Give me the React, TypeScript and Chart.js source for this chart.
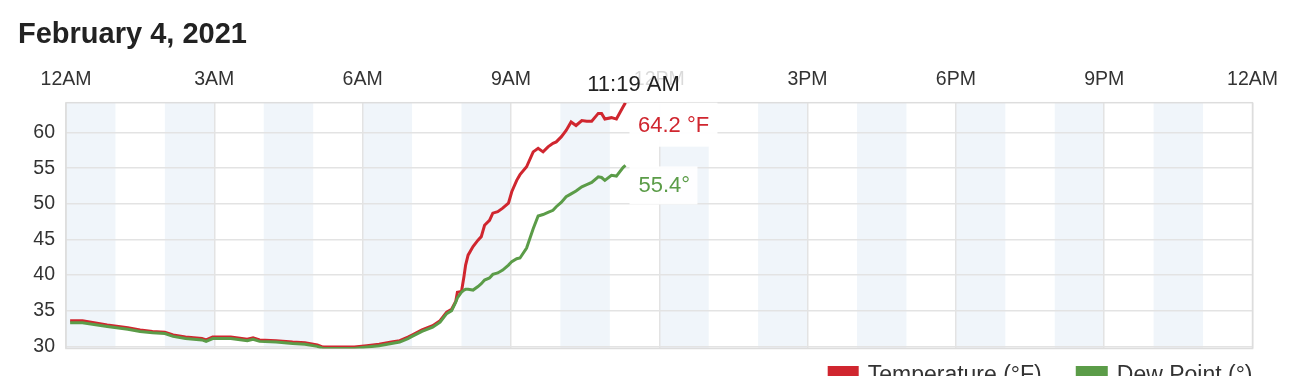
import React, { useEffect, useRef } from 'react';
import { Chart, registerables } from 'chart.js';

Chart.register(...registerables);

const TITLE = 'February 4, 2021';
const xTickLabels = ['12AM', '3AM', '6AM', '9AM', '12PM', '3PM', '6PM', '9PM', '12AM'];
const yTickValues = [30, 35, 40, 45, 50, 55, 60];
const bandStartHours = [0, 2, 4, 6, 8, 10, 12, 14, 16, 18, 20, 22];
const seriesNames = ['Temperature (°F)', 'Dew Point (°)'];
const currentTimeLabel = '11:19 AM';
const currentTempLabel = '64.2 °F';
const currentDewLabel = '55.4°';

const times = [
  '0:05', '0:20', '0:50', '1:15', '1:30', '1:45', '2:00', '2:10', '2:25', '2:45',
  '2:50', '2:58', '3:20', '3:40', '3:47', '3:55', '4:15', '4:35', '4:50', '5:05',
  '5:12', '5:30', '5:50', '6:05', '6:20', '6:35', '6:45', '6:55', '7:00', '7:12',
  '7:25', '7:34', '7:42', '7:48', '7:53', '7:55', '8:00', '8:03', '8:05', '8:08',
  '8:14', '8:20', '8:24', '8:28', '8:34', '8:38', '8:44', '8:50', '8:57', '9:01',
  '9:07', '9:11', '9:19', '9:27', '9:33', '9:39', '9:45', '9:51', '9:55', '10:01',
  '10:07', '10:13', '10:19', '10:26', '10:32', '10:38', '10:46', '10:50', '10:54', '11:02',
  '11:08', '11:16', '11:19',
];

const temperature = [
  33.6, 33.6, 33.0, 32.6, 32.3, 32.1, 32.0, 31.6, 31.3, 31.1,
  30.9, 31.3, 31.3, 31.0, 31.2, 30.9, 30.8, 30.6, 30.5, 30.2,
  29.9, 29.9, 29.9, 30.1, 30.3, 30.6, 30.8, 31.3, 31.6, 32.3,
  32.9, 33.6, 34.8, 35.2, 36.3, 37.6, 37.7, 39.8, 41.4, 42.8,
  44.0, 44.9, 45.4, 47.0, 47.7, 48.7, 48.9, 49.4, 50.1, 51.7,
  53.3, 54.1, 55.2, 57.3, 57.8, 57.3, 58.0, 58.5, 58.7, 59.4,
  60.3, 61.5, 61.0, 61.7, 61.6, 61.6, 62.7, 62.7, 61.9, 62.1,
  61.9, 63.6, 64.2,
];

const dewPoint = [
  33.3, 33.3, 32.8, 32.4, 32.1, 31.9, 31.8, 31.4, 31.1, 30.9,
  30.7, 31.1, 31.1, 30.8, 31.0, 30.7, 30.6, 30.4, 30.3, 30.0,
  29.7, 29.7, 29.7, 29.9, 30.1, 30.4, 30.6, 31.1, 31.4, 32.1,
  32.7, 33.4, 34.6, 35.0, 36.2, 36.8, 37.6, 37.9, 38.0, 38.0,
  37.9, 38.4, 38.8, 39.3, 39.6, 40.1, 40.3, 40.7, 41.4, 41.9,
  42.3, 42.4, 43.8, 46.5, 48.3, 48.5, 48.8, 49.1, 49.6, 50.2,
  51.0, 51.4, 51.8, 52.4, 52.7, 53.0, 53.8, 53.7, 53.3, 54.0,
  53.9, 55.1, 55.4,
];

const RED = '#d0262f';
const GREEN = '#5b9c48';
const FONT = '"Liberation Sans", Arial, sans-serif';

const toHours = (t: string) => {
  const [h, m] = t.split(':').map(Number);
  return h + m / 60;
};

const decorPlugin = {
  id: 'decor',
  beforeDraw(chart: any) {
    const { ctx, chartArea: a, scales } = chart;
    const x = scales.x;
    ctx.save();
    ctx.fillStyle = '#f0f5fa';
    bandStartHours.forEach((h) => {
      const x0 = x.getPixelForValue(h);
      const x1 = x.getPixelForValue(h + 1);
      ctx.fillRect(x0, a.top, x1 - x0, a.bottom - a.top);
    });
    ctx.restore();
  },
  beforeDatasetsDraw(chart: any) {
    const { ctx, chartArea: a } = chart;
    ctx.save();
    ctx.strokeStyle = '#dddddd';
    ctx.lineWidth = 1.5;
    ctx.strokeRect(a.left, a.top, a.right - a.left, a.bottom - a.top);
    ctx.restore();
  },
  afterDraw(chart: any) {
    const { ctx, chartArea: a, scales } = chart;
    const x = scales.x;
    const y = scales.y;
    const last = times.length - 1;
    const px = x.getPixelForValue(toHours(times[last]));
    const pyT = y.getPixelForValue(temperature[last]);
    const pyD = y.getPixelForValue(dewPoint[last]);
    ctx.save();
    ctx.font = `22px ${FONT}`;
    ctx.textBaseline = 'middle';

    // time label
    ctx.fillStyle = 'rgba(255,255,255,0.82)';
    ctx.fillRect(px - 46, a.top - 37, 108, 36);
    ctx.fillStyle = '#222';
    ctx.textAlign = 'center';
    ctx.fillText(currentTimeLabel, px + 8, a.top - 18);

    // temperature label
    ctx.fillStyle = 'rgba(255,255,255,0.95)';
    ctx.fillRect(px + 4, pyT, 88, 44);
    ctx.fillStyle = RED;
    ctx.textAlign = 'left';
    ctx.fillText(currentTempLabel, px + 12.5, pyT + 23);

    // dew point label
    ctx.fillStyle = 'rgba(255,255,255,0.9)';
    ctx.fillRect(px + 4, pyD + 1, 68, 38);
    ctx.fillStyle = GREEN;
    ctx.fillText(currentDewLabel, px + 13, pyD + 21);

    // legend
    ctx.font = `23px ${FONT}`;
    ctx.textBaseline = 'alphabetic';
    const w1 = ctx.measureText(seriesNames[0]).width;
    const w2 = ctx.measureText(seriesNames[1]).width;
    const t2x = a.right - w2;
    const b2x = t2x - 41;
    const t1x = b2x - 34 - w1;
    const b1x = t1x - 40;
    const by = 366;
    ctx.fillStyle = RED;
    ctx.fillRect(b1x, by, 31, 16);
    ctx.fillStyle = GREEN;
    ctx.fillRect(b2x, by, 32, 16);
    ctx.fillStyle = '#333';
    ctx.fillText(seriesNames[0], t1x, 381.5);
    ctx.fillText(seriesNames[1], t2x, 381.5);
    ctx.restore();
  },
};

export default function App() {
  const ref = useRef<HTMLCanvasElement | null>(null);

  useEffect(() => {
    if (!ref.current) return;
    const tempData = times.map((t, i) => ({ x: toHours(t), y: temperature[i] }));
    const dewData = times.map((t, i) => ({ x: toHours(t), y: dewPoint[i] }));

    const chart = new Chart(ref.current, {
      type: 'line',
      data: {
        datasets: [
          {
            label: seriesNames[0],
            data: tempData,
            borderColor: RED,
            backgroundColor: RED,
            borderWidth: 3,
            pointRadius: 0,
            tension: 0,
            order: 1,
          },
          {
            label: seriesNames[1],
            data: dewData,
            borderColor: GREEN,
            backgroundColor: GREEN,
            borderWidth: 3,
            pointRadius: 0,
            tension: 0,
            order: 0,
          },
        ],
      },
      options: {
        animation: false,
        responsive: false,
        devicePixelRatio: 1,
        layout: { padding: { left: 18, right: 56.5, top: 0, bottom: 27.5 } },
        plugins: {
          legend: { display: false },
          tooltip: { enabled: false },
          title: {
            display: true,
            text: TITLE,
            align: 'start',
            color: '#222',
            font: { family: FONT, size: 29, weight: 'bold' },
            padding: { top: 17.6, bottom: 0 },
          },
        },
        scales: {
          x: {
            type: 'linear',
            position: 'top',
            min: 0,
            max: 24,
            afterFit: (s: any) => {
              s.height = 50.3;
            },
            ticks: {
              stepSize: 3,
              autoSkip: false,
              maxRotation: 0,
              padding: 11.2,
              color: '#333',
              font: { family: FONT, size: 19.5 },
              callback: (v: any) => xTickLabels[Math.round(Number(v) / 3)],
            },
            grid: { color: '#e3e3e3', lineWidth: 1.5, drawTicks: false },
            border: { display: false },
          },
          y: {
            type: 'linear',
            min: 29.7,
            max: 64.2,
            afterFit: (s: any) => {
              s.width = 48;
            },
            afterBuildTicks: (s: any) => {
              s.ticks = yTickValues.map((v) => ({ value: v }));
            },
            ticks: {
              padding: 11,
              color: '#333',
              font: { family: FONT, size: 19.5 },
            },
            grid: { color: '#e3e3e3', lineWidth: 1.5, drawTicks: false },
            border: { display: false },
          },
        },
      },
      plugins: [decorPlugin],
    });
    return () => chart.destroy();
  }, []);

  return (
    <div style={{ position: 'fixed', left: 0, top: 0, width: 1309, height: 376, overflow: 'hidden', background: '#fff' }}>
      <canvas ref={ref} width={1309} height={376} style={{ display: 'block' }} />
    </div>
  );
}
